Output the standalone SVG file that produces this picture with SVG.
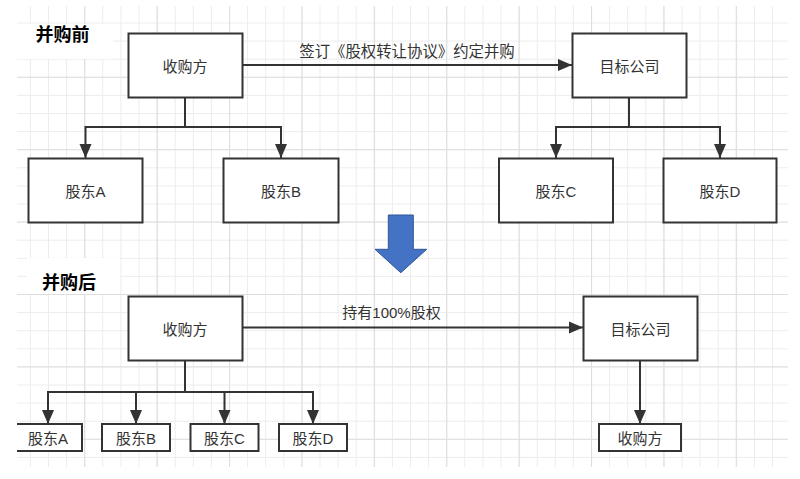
<svg xmlns="http://www.w3.org/2000/svg" width="800" height="479" viewBox="0 0 800 479">
<style>
.box{fill:#fff;stroke:#333;stroke-width:2}
.lbl{font-family:"Liberation Sans","Noto Sans CJK SC",sans-serif;font-size:15px;fill:#333;text-anchor:middle;dominant-baseline:central}
.title{font-family:"Noto Sans CJK SC","Liberation Sans",sans-serif;font-size:18px;font-weight:bold;fill:#000;text-anchor:middle;dominant-baseline:central}
.conn{fill:none;stroke:#333;stroke-width:2}
</style>
<defs>
<pattern id="minor" patternUnits="userSpaceOnUse" x="11.8" y="4.4" width="18.1" height="18.1">
<path d="M0 0.5H18.1M0.5 0V18.1" stroke="#ececec" stroke-width="1"/>
</pattern>
<pattern id="major" patternUnits="userSpaceOnUse" x="11.8" y="4.4" width="72.4" height="72.4">
<path d="M0 0.5H72.4M0.5 0V72.4" stroke="#dedede" stroke-width="1.2"/>
</pattern>
<marker id="arr" markerUnits="userSpaceOnUse" markerWidth="14" markerHeight="14" viewBox="0 0 14 12" refX="14" refY="6" orient="auto">
<path d="M0 0L14 6L0 12Z" fill="#333"/>
</marker>
<clipPath id="gridclip"><rect x="17" y="6" width="771" height="461"/></clipPath>
</defs>
<rect width="800" height="479" fill="#fff"/>
<g id="grid" clip-path="url(#gridclip)">
<rect x="17" y="6" width="771" height="461" fill="url(#minor)"/>
<rect x="17" y="6" width="771" height="461" fill="url(#major)"/>
<rect x="17" y="24" width="96" height="35" fill="#fff"/>
<rect x="27" y="258" width="93" height="36" fill="#fff"/>
</g>
<text class="title" x="62.5" y="32.5">并购前</text>
<text class="title" x="69" y="281">并购后</text>
<g id="connectors" clip-path="url(#gridclip)">
<path class="conn" d="M185 97V127H85.5V158" marker-end="url(#arr)"/>
<path class="conn" d="M185 127H281V158" marker-end="url(#arr)"/>
<path class="conn" d="M242 65H572" marker-end="url(#arr)"/>
<path class="conn" d="M629 97V127H556V158" marker-end="url(#arr)"/>
<path class="conn" d="M629 127H720V158" marker-end="url(#arr)"/>
<path class="conn" d="M242 327.5H583" marker-end="url(#arr)"/>
<path class="conn" d="M185 360V392H48V424" marker-end="url(#arr)"/>
<path class="conn" d="M185 392H136V424" marker-end="url(#arr)"/>
<path class="conn" d="M185 392H224.5V424" marker-end="url(#arr)"/>
<path class="conn" d="M185 392H313V424" marker-end="url(#arr)"/>
<path class="conn" d="M640 360V424" marker-end="url(#arr)"/>
<text class="lbl" x="407" y="51.5" style="font-size:15.4px">签订《股权转让协议》约定并购</text>
<text class="lbl" x="391.5" y="312.5">持有100%股权</text>
</g>
<g id="n-buyer1"><rect class="box" x="128.5" y="33.5" width="114" height="64"/><text class="lbl" x="185" y="66">收购方</text></g>
<g id="n-target1"><rect class="box" x="572.5" y="33.5" width="114" height="64"/><text class="lbl" x="629.5" y="66">目标公司</text></g>
<g id="n-sa1"><rect class="box" x="28.5" y="158.5" width="114" height="64"/><text class="lbl" x="85.5" y="191">股东A</text></g>
<g id="n-sb1"><rect class="box" x="223.5" y="158.5" width="115" height="64"/><text class="lbl" x="281" y="191">股东B</text></g>
<g id="n-sc1"><rect class="box" x="499" y="158.5" width="114" height="64"/><text class="lbl" x="556" y="191">股东C</text></g>
<g id="n-sd1"><rect class="box" x="663.5" y="158.5" width="113" height="64"/><text class="lbl" x="720" y="191">股东D</text></g>
<g id="arrow-down"><polygon points="388.3,215 413.3,215 413.3,249.3 426.7,249.3 400.8,272.7 375,249.3 388.3,249.3" fill="#4472c4" stroke="#2f5597" stroke-width="1"/></g>
<g id="n-buyer2"><rect class="box" x="128.5" y="296.5" width="114" height="64"/><text class="lbl" x="185" y="329">收购方</text></g>
<g id="n-target2"><rect class="box" x="583.5" y="296.5" width="114" height="64"/><text class="lbl" x="640.5" y="329">目标公司</text></g>
<g id="n-sa2" clip-path="url(#gridclip)"><rect class="box" x="14" y="424" width="68" height="27"/><text class="lbl" x="48" y="438">股东A</text></g>
<g id="n-sb2"><rect class="box" x="102" y="424" width="68" height="27"/><text class="lbl" x="136" y="438">股东B</text></g>
<g id="n-sc2"><rect class="box" x="190.5" y="424" width="68" height="27"/><text class="lbl" x="224.5" y="438">股东C</text></g>
<g id="n-sd2"><rect class="box" x="279" y="424" width="68" height="27"/><text class="lbl" x="313" y="438">股东D</text></g>
<g id="n-buyer3"><rect class="box" x="599" y="424" width="82" height="27"/><text class="lbl" x="640" y="438">收购方</text></g>
</svg>
